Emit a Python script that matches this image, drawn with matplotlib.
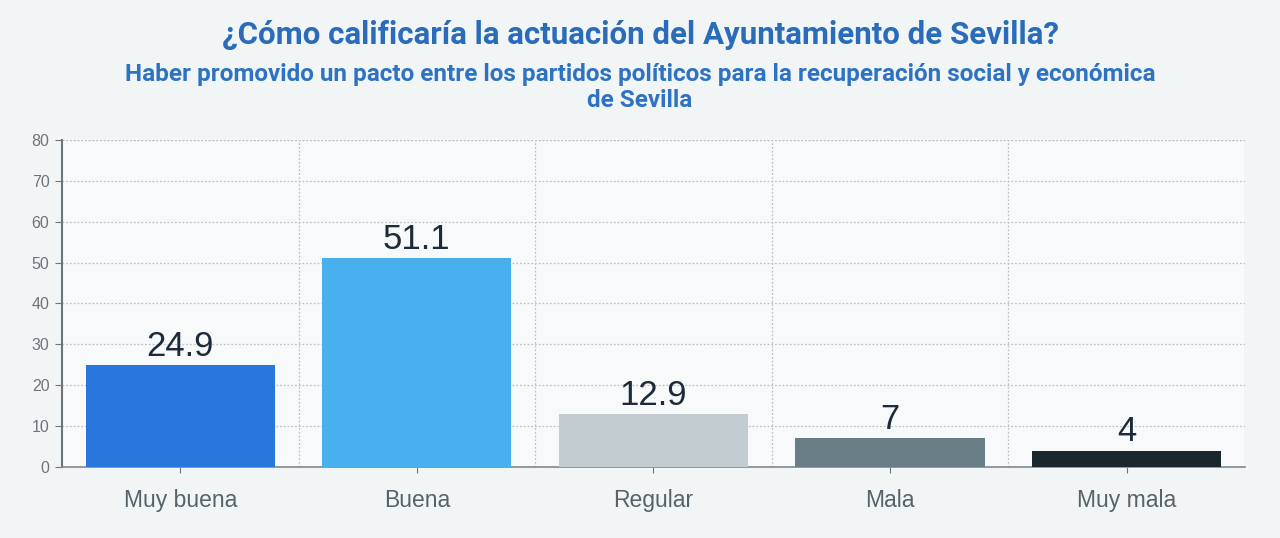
import numpy as np
import matplotlib.pyplot as plt

categories = ["Muy buena", "Buena", "Regular", "Mala", "Muy mala"]
values = [24.9, 51.1, 12.9, 7, 4]
value_labels = ["24.9", "51.1", "12.9", "7", "4"]
colors = ["#2877dc", "#48b0ee", "#c3cdd1", "#697d84", "#1a272d"]
yticks = [0, 10, 20, 30, 40, 50, 60, 70, 80]

title = "¿Cómo calificaría la actuación del Ayuntamiento de Sevilla?"
subtitle = "Haber promovido un pacto entre los partidos políticos para la recuperación social y económica\nde Sevilla"

fig = plt.figure(figsize=(12.8, 5.38), dpi=100)
fig.patch.set_facecolor("#f2f5f6")
ax = fig.add_axes([0.0484, 0.132, 0.9242, 0.608])
ax.set_facecolor("#f8f9fa")

x = np.arange(len(categories))
ax.bar(x, values, width=0.8, color=colors, zorder=3)
for xi, v, lab in zip(x, values, value_labels):
    ax.text(xi, v + 0.6, lab, ha="center", va="bottom", fontsize=25,
            color="#1c2a3a", family="Liberation Sans", zorder=4)

ax.set_xlim(-0.5, len(categories) - 0.5)
ax.set_ylim(0, 80)
ax.set_xticks(x)
ax.set_xticklabels(categories, fontsize=16.5, color="#55636a", family="Liberation Sans")
ax.set_yticks(yticks)
ax.set_yticklabels([str(t) for t in yticks], fontsize=11.5, color="#6a767c", family="Liberation Sans")

# grid: horizontal at ticks, vertical between categories
ax.set_xticks(np.arange(0.5, len(categories) - 0.5, 1), minor=True)
grid_style = dict(linestyle=(0, (1.5, 1.5)), color="#bcc3c7", linewidth=0.9)
ax.grid(axis="y", which="major", zorder=0, **grid_style)
ax.grid(axis="x", which="minor", zorder=0, **grid_style)
ax.tick_params(axis="x", which="minor", length=0)
ax.tick_params(axis="x", which="major", length=4, color="#6a767c", pad=12)
ax.tick_params(axis="y", length=5, color="#6a767c", pad=4)
ax.plot([1, 1], [0, 1], transform=ax.transAxes, zorder=0, **grid_style)
ax.plot([0, 1], [1, 1], transform=ax.transAxes, zorder=0, **grid_style)

for s in ["top", "right"]:
    ax.spines[s].set_visible(False)
ax.spines["left"].set_color("#6a767c")
ax.spines["left"].set_linewidth(1.5)
ax.spines["bottom"].set_color("#7d8a90")
ax.spines["bottom"].set_linewidth(1.2)

fig.text(0.5, 0.935, title, ha="center", va="center", fontsize=22.5,
         fontweight="bold", color="#2a6cba", family="Roboto")
fig.text(0.5, 0.837, subtitle, ha="center", va="center", fontsize=17.5,
         fontweight="bold", color="#2e72c4", family="Roboto", linespacing=1.2)

fig.savefig("out.png", dpi=100, facecolor=fig.get_facecolor())
